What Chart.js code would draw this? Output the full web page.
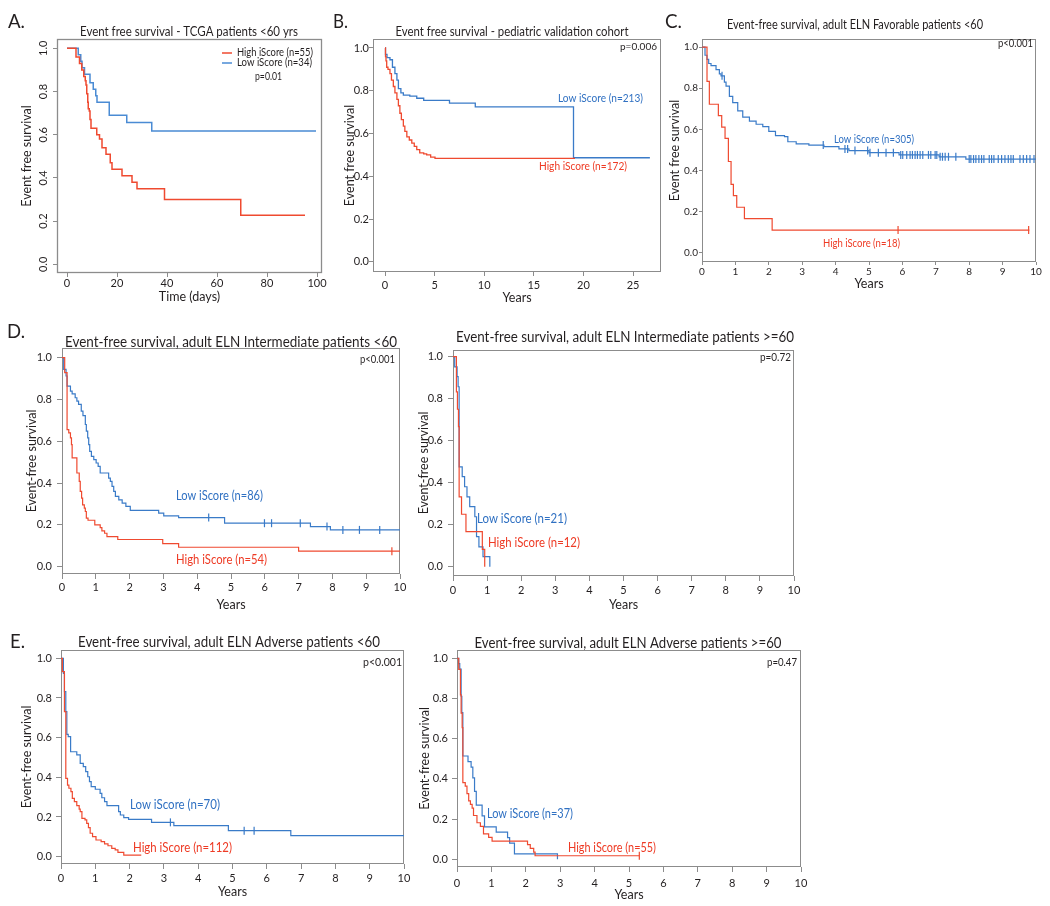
<!DOCTYPE html>
<html><head><meta charset="utf-8">
<script src="https://cdn.jsdelivr.net/npm/chart.js@4.4.1/dist/chart.umd.min.js"></script>
<style>
html,body{margin:0;padding:0;background:#fff;}
#wrap{position:relative;width:1050px;height:906px;overflow:hidden;background:#fff;}
canvas{position:absolute;}
</style></head><body><div id="wrap"></div>
<script>
// ---------------- DATA ----------------
// tick labels
const aXTicks = [0, 20, 40, 60, 80, 100];
const bXTicks = [0, 5, 10, 15, 20, 25];
const yearTicks = [0, 1, 2, 3, 4, 5, 6, 7, 8, 9, 10];
const survTicks = [0, 0.2, 0.4, 0.6, 0.8, 1.0];

// A. TCGA patients <60 yrs (time in days)
const aHighT = [0, 3.6, 5, 5.9, 6.7, 7.3, 7.6, 7.9, 8.3, 8.5, 8.9, 9.2, 9.6, 11.9, 13, 14, 15.6, 17.3, 18, 22, 26, 28, 39, 69.5, 95.2];
const aHighS = [1, 0.96, 0.93, 0.90, 0.87, 0.85, 0.83, 0.79, 0.75, 0.72, 0.71, 0.67, 0.63, 0.60, 0.58, 0.54, 0.51, 0.47, 0.44, 0.41, 0.38, 0.35, 0.30, 0.227, 0.227];
const aLowT = [0, 4.5, 5.5, 6, 7, 9.2, 10.5, 11.5, 12, 16.9, 23.9, 33.9, 99.6];
const aLowS = [1, 0.97, 0.94, 0.91, 0.88, 0.84, 0.81, 0.78, 0.75, 0.69, 0.656, 0.617, 0.617];

// B. pediatric validation cohort (years)
const bHighT = [0, 0.05, 0.1, 0.17, 0.3, 0.5, 0.65, 0.84, 1.0, 1.2, 1.35, 1.5, 1.65, 1.85, 2.0, 2.2, 2.45, 2.7, 2.95, 3.2, 3.5, 3.9, 4.2, 4.6, 5.04, 19.15];
const bHighS = [1, 0.96, 0.94, 0.91, 0.9, 0.88, 0.85, 0.82, 0.79, 0.76, 0.73, 0.695, 0.665, 0.635, 0.61, 0.585, 0.57, 0.555, 0.54, 0.525, 0.51, 0.505, 0.50, 0.49, 0.484, 0.484];
const bLowT = [0, 0.05, 0.2, 0.5, 0.75, 1.0, 1.2, 1.35, 1.6, 1.85, 2.5, 3.2, 3.9, 6.5, 9.1, 19.0, 26.7];
const bLowS = [1, 0.97, 0.955, 0.945, 0.91, 0.88, 0.85, 0.81, 0.79, 0.78, 0.775, 0.765, 0.755, 0.742, 0.725, 0.487, 0.487];

// C. adult ELN Favorable <60
const cHighT = [0, 0.15, 0.22, 0.49, 0.59, 0.69, 0.79, 0.87, 0.94, 1.04, 1.27, 2.1, 9.8];
const cHighS = [1, 0.833, 0.722, 0.667, 0.611, 0.556, 0.444, 0.333, 0.278, 0.222, 0.167, 0.111, 0.111];
const cHighCensor = [5.87, 9.78];
const cLowT = [0, 0.09, 0.15, 0.2, 0.27, 0.42, 0.52, 0.57, 0.67, 0.72, 0.82, 0.92, 1.07, 1.22, 1.42, 1.62, 1.82, 2.0, 2.2, 2.47, 2.57, 2.82, 3.2, 3.65, 4.1, 4.4, 5.0, 5.9, 7.1, 7.9, 10];
const cLowS = [1, 0.96, 0.94, 0.92, 0.91, 0.89, 0.87, 0.86, 0.83, 0.81, 0.76, 0.73, 0.69, 0.66, 0.64, 0.625, 0.613, 0.59, 0.57, 0.565, 0.54, 0.53, 0.524, 0.516, 0.505, 0.497, 0.487, 0.476, 0.467, 0.456, 0.456];
const cLowCensor = [0.6, 3.63, 4.28, 4.36, 4.58, 4.96, 5.03, 5.28, 5.51, 5.73, 5.95, 6.01, 6.13, 6.23, 6.30, 6.38, 6.45, 6.53, 6.61, 6.78, 6.85, 6.98, 7.03, 7.13, 7.2, 7.28, 7.38, 7.6, 8.0, 8.05, 8.13, 8.2, 8.29, 8.37, 8.44, 8.6, 8.67, 8.74, 8.87, 8.97, 9.07, 9.17, 9.25, 9.32, 9.52, 9.62, 9.72, 9.82, 9.94];

// D. adult ELN Intermediate <60
const dLHighT = [0, 0.08, 0.15, 0.2, 0.25, 0.28, 0.3, 0.44, 0.51, 0.54, 0.58, 0.61, 0.66, 0.69, 0.72, 0.77, 0.97, 1.13, 1.18, 1.26, 1.33, 1.65, 2.98, 3.45, 7.0, 10];
const dLHighS = [1, 0.928, 0.656, 0.64, 0.616, 0.584, 0.52, 0.448, 0.408, 0.36, 0.328, 0.296, 0.28, 0.264, 0.232, 0.222, 0.2, 0.187, 0.171, 0.16, 0.144, 0.13, 0.11, 0.093, 0.074, 0.074];
const dLHighCensor = [9.76];
const dLLowT = [0, 0.05, 0.12, 0.15, 0.25, 0.3, 0.39, 0.44, 0.49, 0.57, 0.62, 0.69, 0.72, 0.76, 0.79, 0.82, 0.87, 0.94, 1.01, 1.07, 1.13, 1.38, 1.43, 1.48, 1.53, 1.58, 1.68, 1.78, 1.89, 2.02, 2.86, 3.01, 3.45, 4.81, 7.35, 7.94, 10];
const dLLowS = [1, 0.944, 0.912, 0.864, 0.84, 0.827, 0.808, 0.792, 0.776, 0.744, 0.723, 0.68, 0.648, 0.616, 0.584, 0.552, 0.528, 0.512, 0.496, 0.48, 0.448, 0.424, 0.408, 0.384, 0.36, 0.336, 0.32, 0.304, 0.288, 0.269, 0.256, 0.243, 0.235, 0.208, 0.192, 0.176, 0.176];
const dLLowCensor = [4.34, 5.99, 6.2, 7.05, 7.84, 8.31, 8.8, 9.4];

// D. adult ELN Intermediate >=60
const dRHighT = [0, 0.1, 0.13, 0.16, 0.18, 0.25, 0.38, 0.86, 0.93];
const dRHighS = [1, 0.833, 0.75, 0.667, 0.333, 0.25, 0.167, 0.083, 0];
const dRLowT = [0, 0.05, 0.12, 0.15, 0.18, 0.27, 0.34, 0.41, 0.49, 0.64, 0.69, 0.76, 0.88, 1.08];
const dRLowS = [1, 0.952, 0.905, 0.857, 0.476, 0.429, 0.381, 0.333, 0.286, 0.238, 0.143, 0.095, 0.048, 0];

// E. adult ELN Adverse <60
const eLHighT = [0, 0.04, 0.1, 0.14, 0.19, 0.23, 0.29, 0.33, 0.39, 0.46, 0.53, 0.56, 0.61, 0.7, 0.75, 0.8, 0.85, 0.92, 1.02, 1.17, 1.27, 1.37, 1.48, 1.58, 1.66, 1.83, 2.34];
const eLHighS = [1, 0.933, 0.731, 0.395, 0.361, 0.345, 0.328, 0.294, 0.277, 0.257, 0.24, 0.227, 0.193, 0.185, 0.168, 0.146, 0.118, 0.101, 0.084, 0.076, 0.064, 0.055, 0.042, 0.034, 0.022, 0.008, 0.008];
const eLLowT = [0, 0.07, 0.1, 0.14, 0.17, 0.21, 0.28, 0.46, 0.56, 0.65, 0.72, 0.78, 0.83, 0.88, 1.0, 1.14, 1.19, 1.27, 1.34, 1.68, 1.73, 1.83, 1.97, 2.64, 3.29, 4.88, 6.7, 10];
const eLLowS = [1, 0.924, 0.832, 0.731, 0.617, 0.605, 0.529, 0.513, 0.47, 0.454, 0.429, 0.403, 0.378, 0.353, 0.34, 0.319, 0.297, 0.277, 0.257, 0.227, 0.21, 0.197, 0.188, 0.173, 0.156, 0.131, 0.106, 0.106];
const eLLowCensor = [3.19, 5.34, 5.63];

// E. adult ELN Adverse >=60
const eRHighT = [0, 0.05, 0.1, 0.12, 0.15, 0.17, 0.24, 0.29, 0.34, 0.39, 0.44, 0.48, 0.58, 0.68, 0.77, 0.92, 1.02, 2.05, 2.13, 2.23, 2.27, 5.3];
const eRHighS = [1, 0.945, 0.818, 0.727, 0.655, 0.382, 0.364, 0.327, 0.291, 0.273, 0.255, 0.218, 0.182, 0.164, 0.127, 0.109, 0.091, 0.073, 0.055, 0.036, 0.018, 0.018];
const eRHighCensor = [5.3];
const eRLowT = [0, 0.05, 0.08, 0.12, 0.14, 0.17, 0.32, 0.41, 0.46, 0.51, 0.56, 0.73, 0.8, 1.14, 1.47, 1.53, 1.67, 2.92];
const eRLowS = [1, 0.973, 0.946, 0.811, 0.73, 0.514, 0.486, 0.459, 0.405, 0.338, 0.27, 0.216, 0.162, 0.135, 0.108, 0.081, 0.027, 0];

// ---------------- STYLE / HELPERS ----------------
const RED = '#ef4a30', BLUE = '#3a7bc8';
const RED_T = '#ee3a24', BLUE_T = '#2f70c2';
const INK = '#231f20';
const FONT = 'Lato, "Open Sans", "Liberation Sans", sans-serif';

function pts(T, S) { return T.map((t, i) => ({ x: t, y: S[i] })); }
function survAt(T, S, t) { let v = S[0]; for (let i = 0; i < T.length; i++) { if (T[i] <= t) v = S[i]; } return v; }
function censorPts(T, S, C) { return C.map(t => ({ x: t, y: survAt(T, S, t) })); }

const panelText = {
  id: 'panelText',
  beforeDatasetsDraw(chart) {
    const cfg = chart.canvas.__cfg, a = chart.chartArea, ctx = chart.ctx;
    ctx.save();
    ctx.strokeStyle = cfg.frameColor || '#8c8c8c';
    ctx.lineWidth = cfg.frameWidth || 1;
    const l = Math.round(a.left) + 0.5, t = Math.round(a.top) + 0.5, r = Math.round(a.right) - 0.5, b = Math.round(a.bottom) - 0.5;
    ctx.strokeRect(l, t, r - l, b - t);
    ctx.restore();
  },
  afterDraw(chart) {
    const cfg = chart.canvas.__cfg, ctx = chart.ctx, ox = cfg.cx, oy = cfg.cy;
    (cfg.lines || []).forEach(L => {
      ctx.save(); ctx.strokeStyle = L.color; ctx.lineWidth = L.width;
      ctx.beginPath(); ctx.moveTo(L.x1 - ox, L.y - oy); ctx.lineTo(L.x2 - ox, L.y - oy); ctx.stroke(); ctx.restore();
    });
    (cfg.items || []).forEach(it => {
      ctx.save();
      ctx.font = it.size + 'px ' + FONT;
      ctx.fillStyle = it.color || INK;
      ctx.textBaseline = 'middle';
      ctx.textAlign = 'left';
      const nat = ctx.measureText(it.text).width;
      const sx = it.w ? it.w / nat : 1;
      let x0 = it.x;
      if (it.align === 'center') x0 = it.x - nat * sx / 2;
      else if (it.align === 'right') x0 = it.x - nat * sx;
      ctx.translate(x0 - ox, it.y - oy);
      ctx.scale(sx, 1);
      ctx.fillText(it.text, 0, 0);
      ctx.restore();
    });
  }
};

function panel(cfg) {
  const c = document.createElement('canvas');
  c.width = cfg.cw; c.height = cfg.ch;
  c.style.left = cfg.cx + 'px'; c.style.top = cfg.cy + 'px';
  c.__cfg = cfg;
  document.getElementById('wrap').appendChild(c);
  const [bl, bt, br, bb] = cfg.box;
  const Wy = bl - cfg.cx, Pt = bt - cfg.cy, Pr = cfg.cx + cfg.cw - br, Hx = cfg.cy + cfg.ch - bb;
  const tfs = cfg.axisTitleSize || 12.5, lh = tfs * 1.2;
  const datasets = [];
  cfg.series.forEach(s => {
    datasets.push({ data: pts(s.T, s.S), showLine: true, stepped: 'before', borderColor: s.color, borderWidth: cfg.lw,
      pointRadius: 0, pointHoverRadius: 0, fill: false });
    if (s.C) datasets.push({ data: censorPts(s.T, s.S, s.C), showLine: false, pointStyle: 'line', pointRotation: 90,
      pointRadius: cfg.cr || 4, pointHoverRadius: cfg.cr || 4, pointBorderColor: s.color, pointBorderWidth: cfg.lw,
      borderColor: s.color, backgroundColor: s.color });
  });
  new Chart(c, {
    type: 'scatter',
    data: { datasets },
    options: {
      responsive: false, animation: false, events: [],
      layout: { padding: { top: Pt, right: Pr, left: 0, bottom: 0 }, autoPadding: false },
      plugins: { legend: { display: false }, tooltip: { enabled: false } },
      scales: {
        x: {
          type: 'linear', min: cfg.xr[0], max: cfg.xr[1],
          afterFit: s => { s.height = Hx; },
          afterBuildTicks: s => { s.ticks = cfg.xTicks.map(v => ({ value: v })); },
          ticks: { font: { family: FONT, size: cfg.tickSize }, color: INK, padding: cfg.xPad, maxRotation: 0, minRotation: 0,
            autoSkip: false, callback: v => String(v) },
          grid: { drawOnChartArea: false, drawTicks: true, tickLength: cfg.xTL, color: '#8c8c8c' },
          border: { display: false },
          title: { display: true, text: cfg.xTitle, color: INK, font: { family: FONT, size: tfs },
            padding: { top: 0, bottom: cfg.cy + cfg.ch - lh / 2 - cfg.xTitleY } }
        },
        y: {
          type: 'linear', min: cfg.yr[0], max: cfg.yr[1],
          afterFit: s => { s.width = Wy; },
          afterBuildTicks: s => { s.ticks = survTicks.map(v => ({ value: v })); },
          ticks: { font: { family: FONT, size: cfg.tickSize }, color: INK, padding: cfg.yPad,
            minRotation: cfg.yRot || 0, maxRotation: cfg.yRot || 0, crossAlign: cfg.yRot ? 'center' : 'near',
            autoSkip: false, callback: v => Number(v).toFixed(1) },
          grid: { drawOnChartArea: false, drawTicks: true, tickLength: cfg.yTL, color: '#8c8c8c' },
          border: { display: false },
          title: { display: true, text: cfg.yTitle, color: INK, font: { family: FONT, size: tfs },
            padding: { top: cfg.yTitleX - cfg.cx - lh / 2, bottom: 0 } }
        }
      }
    },
    plugins: [panelText]
  });
}

// ---------------- PANELS ----------------
panel({
  cx: 0, cy: 0, cw: 332, ch: 305, box: [57, 39, 322, 273],
  xr: [-4, 102], yr: [-0.04, 1.043], xTicks: aXTicks,
  tickSize: 11, xTL: 4, xPad: 0, yTL: 4, yPad: 2, yRot: 90,
  xTitle: 'Time (days)', xTitleY: 297, yTitle: 'Event free survival', yTitleX: 27,
  lw: 1.5, frameWidth: 1.3,
  series: [{ T: aHighT, S: aHighS, color: RED }, { T: aLowT, S: aLowS, color: '#4a8bd4' }],
  lines: [{ x1: 222, x2: 232, y: 53, color: RED, width: 1.5 }, { x1: 222, x2: 232, y: 63, color: '#4a8bd4', width: 1.5 }],
  items: [
    { text: 'A.', x: 8, y: 22, size: 19, w: 17 },
    { text: 'Event free survival - TCGA patients <60 yrs', x: 189, y: 32, align: 'center', size: 12.5, w: 218 },
    { text: 'High iScore (n=55)', x: 237, y: 53, size: 10.5, w: 76 },
    { text: 'Low iScore (n=34)', x: 237, y: 63, size: 10.5, w: 75 },
    { text: 'p=0.01', x: 255, y: 77, size: 10.5, w: 27 }
  ]
});

panel({
  cx: 330, cy: 0, cw: 340, ch: 306, box: [373, 39, 661, 272],
  xr: [-1.21, 27.82], yr: [-0.047, 1.042], xTicks: bXTicks,
  tickSize: 11, xTL: 4, xPad: 3, yTL: 4, yPad: 0,
  xTitle: 'Years', xTitleY: 298, yTitle: 'Event free survival', yTitleX: 350,
  lw: 1.3,
  series: [{ T: bHighT, S: bHighS, color: RED }, { T: bLowT, S: bLowS, color: BLUE }],
  items: [
    { text: 'B.', x: 333, y: 22, size: 19, w: 15 },
    { text: 'Event free survival - pediatric validation cohort', x: 512, y: 32, align: 'center', size: 12.5, w: 233 },
    { text: 'Low iScore (n=213)', x: 558, y: 99, size: 10.5, w: 85, color: BLUE_T },
    { text: 'High iScore (n=172)', x: 539, y: 167, size: 10.5, w: 88, color: RED_T },
    { text: 'p=0.006', x: 657, y: 47, align: 'right', size: 10, w: 37 }
  ]
});

panel({
  cx: 660, cy: 0, cw: 390, ch: 300, box: [702, 39, 1036, 262],
  xr: [0, 10], yr: [-0.044, 1.039], xTicks: yearTicks,
  tickSize: 10, xTL: 3, xPad: 1, yTL: 3, yPad: 1,
  xTitle: 'Years', xTitleY: 284, yTitle: 'Event free survival', yTitleX: 675,
  lw: 1.2, cr: 4,
  series: [{ T: cHighT, S: cHighS, C: cHighCensor, color: RED }, { T: cLowT, S: cLowS, C: cLowCensor, color: BLUE }],
  items: [
    { text: 'C.', x: 665, y: 22, size: 19, w: 17 },
    { text: 'Event-free survival, adult ELN Favorable patients <60', x: 855, y: 25, align: 'center', size: 12.5, w: 256 },
    { text: 'Low iScore (n=305)', x: 834, y: 140, size: 10.5, w: 80, color: BLUE_T },
    { text: 'High iScore (n=18)', x: 823, y: 244, size: 10.5, w: 77, color: RED_T },
    { text: 'p<0.001', x: 1033, y: 44, align: 'right', size: 10.5, w: 35 }
  ]
});

panel({
  cx: 0, cy: 320, cw: 415, ch: 295, box: [62, 348, 400, 574],
  xr: [0, 10], yr: [-0.035, 1.046], xTicks: yearTicks,
  tickSize: 11, xTL: 5, xPad: 1.4, yTL: 5, yPad: 5,
  xTitle: 'Years', xTitleY: 605, yTitle: 'Event-free survival', yTitleX: 32,
  lw: 1.2, cr: 4,
  series: [{ T: dLHighT, S: dLHighS, C: dLHighCensor, color: RED }, { T: dLLowT, S: dLLowS, C: dLLowCensor, color: BLUE }],
  items: [
    { text: 'D.', x: 7, y: 332, size: 19, w: 18 },
    { text: 'Event-free survival, adult ELN Intermediate patients <60', x: 231, y: 342, align: 'center', size: 14.5, w: 332 },
    { text: 'Low iScore (n=86)', x: 176, y: 496, size: 13, w: 87, color: BLUE_T },
    { text: 'High iScore (n=54)', x: 176, y: 560, size: 13, w: 91, color: RED_T },
    { text: 'p<0.001', x: 395, y: 359, align: 'right', size: 11, w: 35 }
  ]
});

panel({
  cx: 415, cy: 320, cw: 400, ch: 295, box: [453, 350, 794, 576],
  xr: [0, 10], yr: [-0.044, 1.032], xTicks: yearTicks,
  tickSize: 11, xTL: 5, xPad: 2.4, yTL: 5, yPad: 5,
  xTitle: 'Years', xTitleY: 605, yTitle: 'Event-free survival', yTitleX: 424,
  lw: 1.2,
  series: [{ T: dRHighT, S: dRHighS, color: RED }, { T: dRLowT, S: dRLowS, color: BLUE }],
  items: [
    { text: 'Event-free survival, adult ELN Intermediate patients >=60', x: 625, y: 337, align: 'center', size: 14.5, w: 338 },
    { text: 'Low iScore (n=21)', x: 477, y: 519, size: 13, w: 90, color: BLUE_T },
    { text: 'High iScore (n=12)', x: 488, y: 543, size: 13, w: 92, color: RED_T },
    { text: 'p=0.72', x: 791, y: 357, align: 'right', size: 11, w: 31 }
  ]
});

panel({
  cx: 0, cy: 620, cw: 415, ch: 286, box: [61, 650, 404, 864],
  xr: [0, 10], yr: [-0.037, 1.042], xTicks: yearTicks,
  tickSize: 11, xTL: 5, xPad: 2.4, yTL: 5, yPad: 4,
  xTitle: 'Years', xTitleY: 892, yTitle: 'Event-free survival', yTitleX: 27,
  lw: 1.2, cr: 4,
  series: [{ T: eLHighT, S: eLHighS, color: RED }, { T: eLLowT, S: eLLowS, C: eLLowCensor, color: BLUE }],
  items: [
    { text: 'E.', x: 10, y: 642, size: 19, w: 15 },
    { text: 'Event-free survival, adult ELN Adverse patients <60', x: 229, y: 642, align: 'center', size: 14.5, w: 302 },
    { text: 'Low iScore (n=70)', x: 130, y: 805, size: 13, w: 90, color: BLUE_T },
    { text: 'High iScore (n=112)', x: 133, y: 848, size: 13, w: 99, color: RED_T },
    { text: 'p<0.001', x: 402, y: 662, align: 'right', size: 11, w: 39 }
  ]
});

panel({
  cx: 415, cy: 620, cw: 400, ch: 286, box: [457, 650, 801, 867],
  xr: [0, 10], yr: [-0.038, 1.041], xTicks: yearTicks,
  tickSize: 11, xTL: 5, xPad: 4.4, yTL: 5, yPad: 4,
  xTitle: 'Years', xTitleY: 895, yTitle: 'Event-free survival', yTitleX: 425,
  lw: 1.2, cr: 4,
  series: [{ T: eRHighT, S: eRHighS, C: eRHighCensor, color: RED }, { T: eRLowT, S: eRLowS, color: BLUE }],
  items: [
    { text: 'Event-free survival, adult ELN Adverse patients >=60', x: 628, y: 643, align: 'center', size: 14.5, w: 307 },
    { text: 'Low iScore (n=37)', x: 487, y: 814, size: 13, w: 86, color: BLUE_T },
    { text: 'High iScore (n=55)', x: 568, y: 848, size: 13, w: 88, color: RED_T },
    { text: 'p=0.47', x: 797, y: 662, align: 'right', size: 11, w: 30 }
  ]
});
</script>
</body></html>
